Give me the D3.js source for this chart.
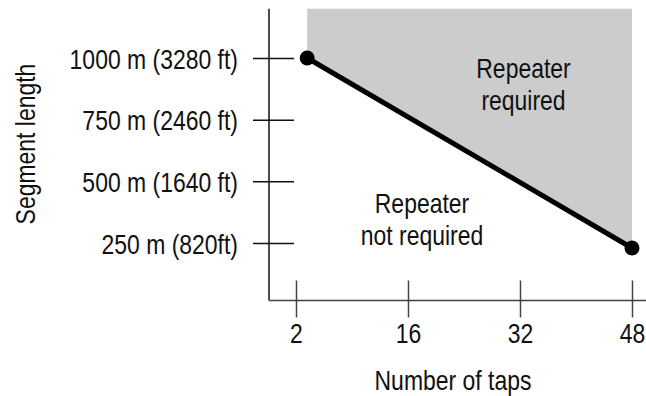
<!DOCTYPE html>
<html>
<head>
<meta charset="utf-8">
<script src="https://cdn.jsdelivr.net/npm/d3@7"></script>
<style>
  body { margin: 0; background: #fff; }
  text { font-family: "Liberation Sans", Arial, sans-serif; font-size: 28px; fill: #111; }
</style>
</head>
<body>
<div id="chart"></div>
<script>
// data
const tapTicks = [2, 16, 32, 48]
const lengthTicks = [1000, 750, 500, 250]
const lengthLabels = ['1000 m (3280 ft)', '750 m (2460 ft)', '500 m (1640 ft)', '250 m (820ft)']
const limitTaps = [3.4, 48]
const limitLength = [1000, 230]
const regionLabels = [
    { lines: ['Repeater', 'required'], taps: 32.5, length: 918 },
    { lines: ['Repeater', 'not required'], taps: 18, length: 372 }
]

const width = 646
const height = 396
const axisX = 269
const axisY = 300.5
const squeeze = 'scale(0.82,1)'

const svg = d3.select('#chart').append('svg')
    .attr('width', width)
    .attr('height', height)

const tickStep = 112
const x = d3.scaleLinear()
    .domain(tapTicks)
    .range(tapTicks.map((d, i) => 296 + i * tickStep))

const y = d3.scaleLinear()
    .domain([0, 1200])
    .range([304.7, 8.7])

const limit = limitTaps.map((t, i) => ({ taps: t, length: limitLength[i] }))

// shaded region above the limit line
const area = d3.area()
    .x((d) => x(d.taps))
    .y0(y(1200))
    .y1((d) => y(d.length))
svg.append('path')
    .datum(limit)
    .attr('d', area)
    .attr('fill', '#cccccc')

// y axis
const yAxis = svg.append('g')
    .attr('transform', 'translate(' + axisX + ',0)')
    .call(d3.axisLeft(y).tickValues(lengthTicks)
        .tickFormat((d, i) => lengthLabels[i]).tickSizeOuter(0))
yAxis.select('.domain').remove()
yAxis.selectAll('.tick line')
    .attr('x1', -16).attr('x2', 25)
    .attr('stroke', '#111').attr('stroke-width', 1.5)
yAxis.selectAll('.tick text')
    .attr('x', null).attr('dy', null)
    .attr('text-anchor', 'end')
    .attr('transform', 'translate(-31,10) ' + squeeze)
    .style('font-size', '28px').style('font-family', null).attr('fill', '#111')
yAxis.attr('font-size', null).attr('font-family', null)
svg.append('line')
    .attr('x1', axisX).attr('x2', axisX)
    .attr('y1', y(1200)).attr('y2', axisY)
    .attr('stroke', '#111').attr('stroke-width', 1.5)

// x axis
const xAxis = svg.append('g')
    .attr('transform', 'translate(0,' + axisY + ')')
    .call(d3.axisBottom(x).tickValues(tapTicks).tickFormat(d3.format('d')).tickSizeOuter(0))
xAxis.select('.domain').remove()
xAxis.selectAll('.tick line')
    .attr('y1', -20).attr('y2', 17)
    .attr('stroke', '#444').attr('stroke-width', 1.5)
xAxis.selectAll('.tick text')
    .attr('y', null).attr('dy', null)
    .attr('text-anchor', 'middle')
    .attr('transform', 'translate(0,42.5) ' + squeeze)
    .style('font-size', '28px').style('font-family', null).attr('fill', '#111')
xAxis.attr('font-size', null).attr('font-family', null)
svg.append('line')
    .attr('x1', axisX).attr('x2', width)
    .attr('y1', axisY).attr('y2', axisY)
    .attr('stroke', '#444').attr('stroke-width', 1.5)

// limit line and end points
svg.append('path')
    .datum(limit)
    .attr('d', d3.line().x((d) => x(d.taps)).y((d) => y(d.length)))
    .attr('fill', 'none')
    .attr('stroke', '#000')
    .attr('stroke-width', 5)
svg.selectAll('circle.end')
    .data(limit)
    .enter().append('circle')
    .attr('class', 'end')
    .attr('cx', (d) => x(d.taps))
    .attr('cy', (d) => y(d.length))
    .attr('r', 7.5)
    .attr('fill', '#000')

// region labels
regionLabels.forEach((r) => {
    const t = svg.append('text')
        .attr('text-anchor', 'middle')
        .attr('transform', 'translate(' + x(r.taps) + ',' + y(r.length) + ') ' + squeeze)
    r.lines.forEach((line, i) => {
        t.append('tspan').attr('x', 0).attr('y', i * 32).text(line)
    })
})

// axis titles
svg.append('text')
    .attr('text-anchor', 'middle')
    .attr('transform', 'translate(453,390) ' + squeeze)
    .text('Number of taps')
svg.append('text')
    .attr('text-anchor', 'middle')
    .attr('transform', 'translate(35,144) rotate(-90) ' + squeeze)
    .text('Segment length')
</script>
</body>
</html>
